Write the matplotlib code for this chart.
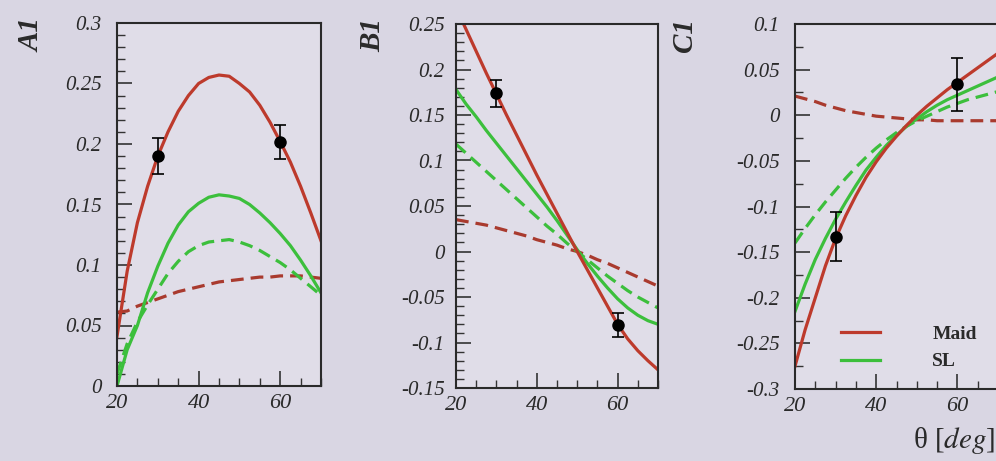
import numpy as np
import matplotlib
matplotlib.use("Agg")
import matplotlib.pyplot as plt
from matplotlib.ticker import MultipleLocator

# angles (deg)
theta = [20, 22.5, 25, 27.5, 30, 32.5, 35, 37.5, 40, 42.5, 45,
         47.5, 50, 52.5, 55, 57.5, 60, 62.5, 65, 67.5, 70]

# A1
a1_maid = [0.041, 0.095, 0.135, 0.165, 0.19, 0.21, 0.227, 0.24, 0.25, 0.255, 0.257,
           0.256, 0.25, 0.243, 0.232, 0.218, 0.202, 0.185, 0.165, 0.143, 0.12]
a1_maid_d = [0.061, 0.062, 0.066, 0.069, 0.072, 0.075, 0.078, 0.08, 0.082, 0.084, 0.086,
             0.087, 0.088, 0.089, 0.09, 0.09, 0.091, 0.091, 0.091, 0.09, 0.089]
a1_sl = [0.0, 0.03, 0.05, 0.077, 0.099, 0.118, 0.133, 0.144, 0.151, 0.156, 0.158,
         0.157, 0.155, 0.15, 0.143, 0.135, 0.126, 0.116, 0.104, 0.091, 0.077]
a1_sl_d = [0.01, 0.035, 0.053, 0.067, 0.08, 0.093, 0.103, 0.111, 0.116, 0.119, 0.12,
           0.121, 0.119, 0.116, 0.112, 0.107, 0.102, 0.096, 0.089, 0.082, 0.075]

# B1
b1_maid = [0.268, 0.244, 0.22, 0.196, 0.173, 0.15, 0.128, 0.106, 0.084, 0.063, 0.042,
           0.021, 0.0, -0.02, -0.04, -0.06, -0.08, -0.096, -0.109, -0.12, -0.13]
b1_maid_d = [0.035, 0.033, 0.031, 0.029, 0.026, 0.023, 0.02, 0.017, 0.013, 0.01, 0.007,
             0.003, 0.0, -0.004, -0.009, -0.013, -0.018, -0.023, -0.028, -0.033, -0.038]
b1_sl = [0.178, 0.162, 0.148, 0.133, 0.119, 0.105, 0.091, 0.077, 0.063, 0.049, 0.034,
         0.018, 0.002, -0.013, -0.027, -0.04, -0.052, -0.062, -0.07, -0.076, -0.08]
b1_sl_d = [0.118, 0.108, 0.098, 0.088, 0.078, 0.068, 0.058, 0.048, 0.038, 0.028, 0.019,
           0.009, 0.0, -0.009, -0.018, -0.027, -0.035, -0.043, -0.05, -0.056, -0.062]

# C1
c1_maid = [-0.275, -0.235, -0.2, -0.165, -0.135, -0.11, -0.088, -0.068, -0.051, -0.036, -0.023,
           -0.011, 0.0, 0.01, 0.019, 0.028, 0.036, 0.044, 0.052, 0.06, 0.068]
c1_maid_d = [0.021, 0.018, 0.015, 0.011, 0.008, 0.005, 0.003, 0.001, -0.001, -0.002, -0.003,
             -0.004, -0.005, -0.005, -0.006, -0.006, -0.006, -0.006, -0.006, -0.006, -0.006]
c1_sl = [-0.215, -0.185, -0.158, -0.135, -0.114, -0.095, -0.077, -0.06, -0.046, -0.033, -0.022,
         -0.012, -0.004, 0.004, 0.011, 0.017, 0.022, 0.027, 0.032, 0.037, 0.042]
c1_sl_d = [-0.14, -0.124, -0.109, -0.095, -0.082, -0.069, -0.057, -0.046, -0.036, -0.027, -0.019,
           -0.012, -0.006, -0.001, 0.004, 0.009, 0.013, 0.017, 0.02, 0.023, 0.026]

# measured points
pts_x = [30, 60]
a1_pts = [0.19, 0.202]
a1_err = [0.015, 0.014]
b1_pts = [0.174, -0.081]
b1_err = [0.015, 0.013]
c1_pts = [-0.133, 0.034]
c1_err = [0.027, 0.029]

RED = "#bd3a2c"
RED_D = "#a93a2e"
GREEN = "#3cbf3c"
BG = "#d9d6e3"
BG_AX = "#e0dde8"
INK = "#2a2a2a"

plt.rcParams["font.family"] = ["Liberation Serif", "DejaVu Serif"]
plt.rcParams["mathtext.fontset"] = "stix"

fig = plt.figure(figsize=(9.96, 4.61), dpi=100)
fig.patch.set_facecolor(BG)

W, H = 996.0, 461.0
# axes boxes in pixels: left, top, right, bottom
boxes = [(117, 23, 321, 386), (456, 24, 658, 388), (795, 24, 998, 389)]
ylims = [(0, 0.3), (-0.15, 0.25), (-0.3, 0.1)]
yminor = [0.01, 0.01, 0.025]
ypad = [11, 8, 11]
names = ["A1", "B1", "C1"]
name_x = [32, 373, 684]
curves = [(a1_maid, a1_maid_d, a1_sl, a1_sl_d),
          (b1_maid, b1_maid_d, b1_sl, b1_sl_d),
          (c1_maid, c1_maid_d, c1_sl, c1_sl_d)]
points = [(a1_pts, a1_err), (b1_pts, b1_err), (c1_pts, c1_err)]

for i in range(3):
    l, t, r, b = boxes[i]
    ax = fig.add_axes([l / W, 1 - b / H, (r - l) / W, (b - t) / H])
    ax.set_facecolor(BG_AX)
    maid, maid_d, sl, sl_d = curves[i]
    lw = 2.3
    ax.plot(theta, maid_d, color=RED_D, lw=lw, dashes=(4, 2.2))
    ax.plot(theta, sl_d, color=GREEN, lw=lw, dashes=(4, 2.2))
    ax.plot(theta, sl, color=GREEN, lw=lw, label="SL")
    ax.plot(theta, maid, color=RED, lw=lw, label="Maid")
    p, e = points[i]
    ax.errorbar(pts_x, p, yerr=e, fmt="o", color="black", ms=8,
                capsize=4, elinewidth=1.2, capthick=1.2, zorder=5)

    ax.set_xlim(20, 70)
    ax.set_ylim(*ylims[i])
    ax.xaxis.set_major_locator(MultipleLocator(20))
    ax.xaxis.set_minor_locator(MultipleLocator(5))
    ax.yaxis.set_major_locator(MultipleLocator(0.05))
    ax.yaxis.set_minor_locator(MultipleLocator(yminor[i]))
    ax.tick_params(which="both", direction="in", top=False, right=False, color="#333333")
    ax.tick_params(which="major", length=11, width=1.2)
    ax.tick_params(which="minor", length=6, width=1.0)
    ax.tick_params(axis="x", which="major", pad=6, labelsize=16)
    ax.tick_params(axis="y", which="major", pad=ypad[i], labelsize=15)
    ax.yaxis.set_major_formatter(plt.FuncFormatter(lambda v, pos: ("%g" % round(v, 3))))
    for lab in ax.get_xticklabels() + ax.get_yticklabels():
        lab.set_fontstyle("italic")
        lab.set_color(INK)
    for sp in ax.spines.values():
        sp.set_linewidth(1.5)
        sp.set_color(INK)

    fig.text(name_x[i] / W, 1 - 18 / H, names[i], rotation=90, ha="center", va="top",
             fontsize=21, fontweight="bold", fontstyle="italic", color=INK)

    if i == 2:
        h = ax.get_lines()
        leg = ax.legend([h[3], h[2]], ["Maid", "SL"], frameon=False,
                        loc="center left", bbox_to_anchor=(833 / W, 1 - 348 / H),
                        bbox_transform=fig.transFigure, handlelength=2.0,
                        handletextpad=2.7, labelspacing=0.5, borderaxespad=0,
                        prop={"weight": "bold", "size": 14})
        for txt in leg.get_texts():
            txt.set_color(INK)

fig.text(995 / W, 1 - 440 / H, r"θ [$\mathit{deg}$]", ha="right", va="center",
         fontsize=21, color=INK)

plt.savefig("out.png", dpi=100, facecolor=fig.get_facecolor())
